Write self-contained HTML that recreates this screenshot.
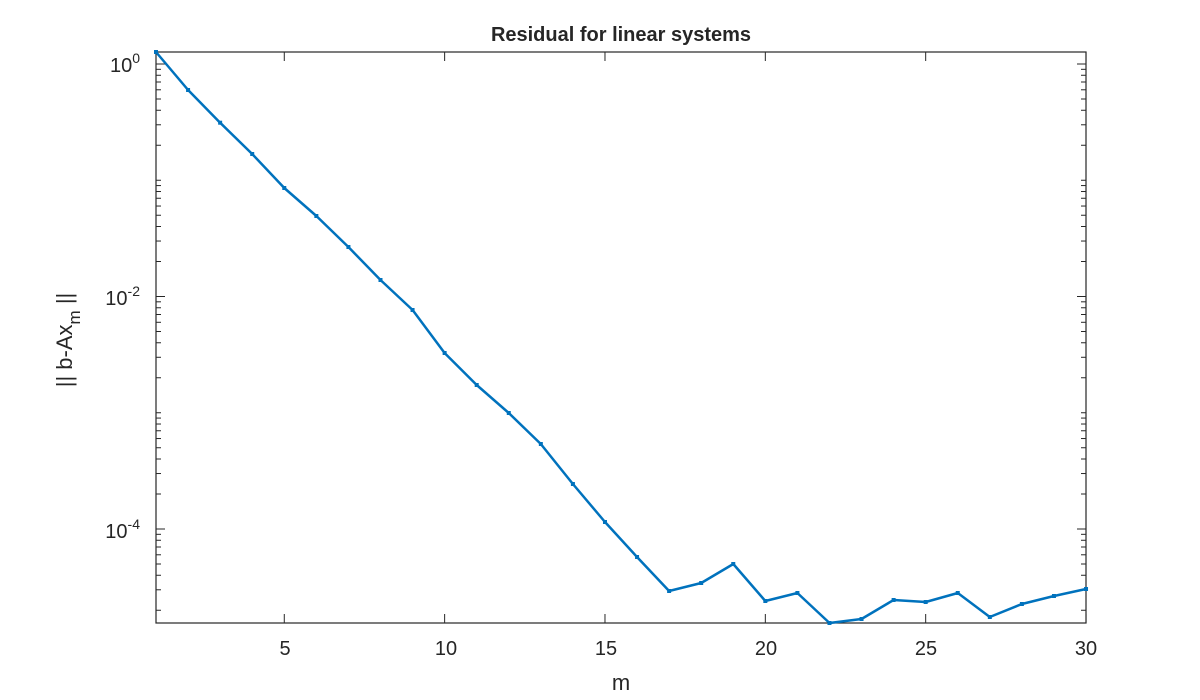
<!DOCTYPE html>
<html><head><meta charset="utf-8"><style>
html,body{margin:0;padding:0;background:#fff;width:1200px;height:700px;overflow:hidden}
text{font-family:"Liberation Sans",Arial,sans-serif;fill:#262626}
</style></head><body>
<svg id="s" width="1200" height="700" xmlns="http://www.w3.org/2000/svg">
<rect x="156" y="52" width="930" height="571" fill="#fff" stroke="#262626" stroke-width="1.2"/>
<g id="ticks" stroke="#262626" stroke-width="1"></g>
<text x="621" y="41" font-size="20" font-weight="bold" text-anchor="middle">Residual for linear systems</text>
<g font-size="20" text-anchor="middle">
<text x="285" y="655">5</text><text x="446" y="655">10</text><text x="606" y="655">15</text>
<text x="766" y="655">20</text><text x="926" y="655">25</text><text x="1086" y="655">30</text>
</g>
<text x="621" y="690" font-size="22" text-anchor="middle">m</text>
<g font-size="20" text-anchor="end">
<text x="140" y="72">10<tspan dy="-9" font-size="14">0</tspan></text>
<text x="140" y="305">10<tspan dy="-9" font-size="14">-2</tspan></text>
<text x="140" y="538">10<tspan dy="-9" font-size="14">-4</tspan></text>
</g>
<text transform="translate(72,340) rotate(-90)" font-size="22" text-anchor="middle">|| b-Ax<tspan dy="8" font-size="17">m</tspan><tspan dy="-8"> ||</tspan></text>
<polyline id="line" fill="none" stroke="#0072BD" stroke-width="2.5" stroke-linejoin="round"/>
<g id="mk" fill="#0072BD"></g>
</svg>
<script>
var ys=[52,90,122.7,154,188,216,247,280,310,353,385,413,444,484,522,557,591,583,564,601,593,623,619,600,602,593,617,604,596,589];
var pts=[],mk='';
for(var i=0;i<30;i++){var x=156+i*32.07;pts.push(x.toFixed(1)+','+ys[i]);mk+='<rect x="'+(x-2)+'" y="'+(ys[i]-2)+'" width="4" height="4"/>';}
document.getElementById('line').setAttribute('points',pts.join(' '));
document.getElementById('mk').innerHTML=mk;
var t='';
for(var m=5;m<=30;m+=5){var x=156+(m-1)*32.07;t+='<line x1="'+x+'" y1="623" x2="'+x+'" y2="614"/><line x1="'+x+'" y1="52" x2="'+x+'" y2="61"/>';}
for(var d=1;d>=-5;d--){for(var k=1;k<10;k++){var y=64-116.25*(d+Math.log10(k));if(y<52||y>623)continue;var L=(k==1&&d%2==0)?9:5;
t+='<line x1="156" y1="'+y+'" x2="'+(156+L)+'" y2="'+y+'"/><line x1="1086" y1="'+y+'" x2="'+(1086-L)+'" y2="'+y+'"/>';}}
document.getElementById('ticks').innerHTML=t;
</script>
</body></html>
